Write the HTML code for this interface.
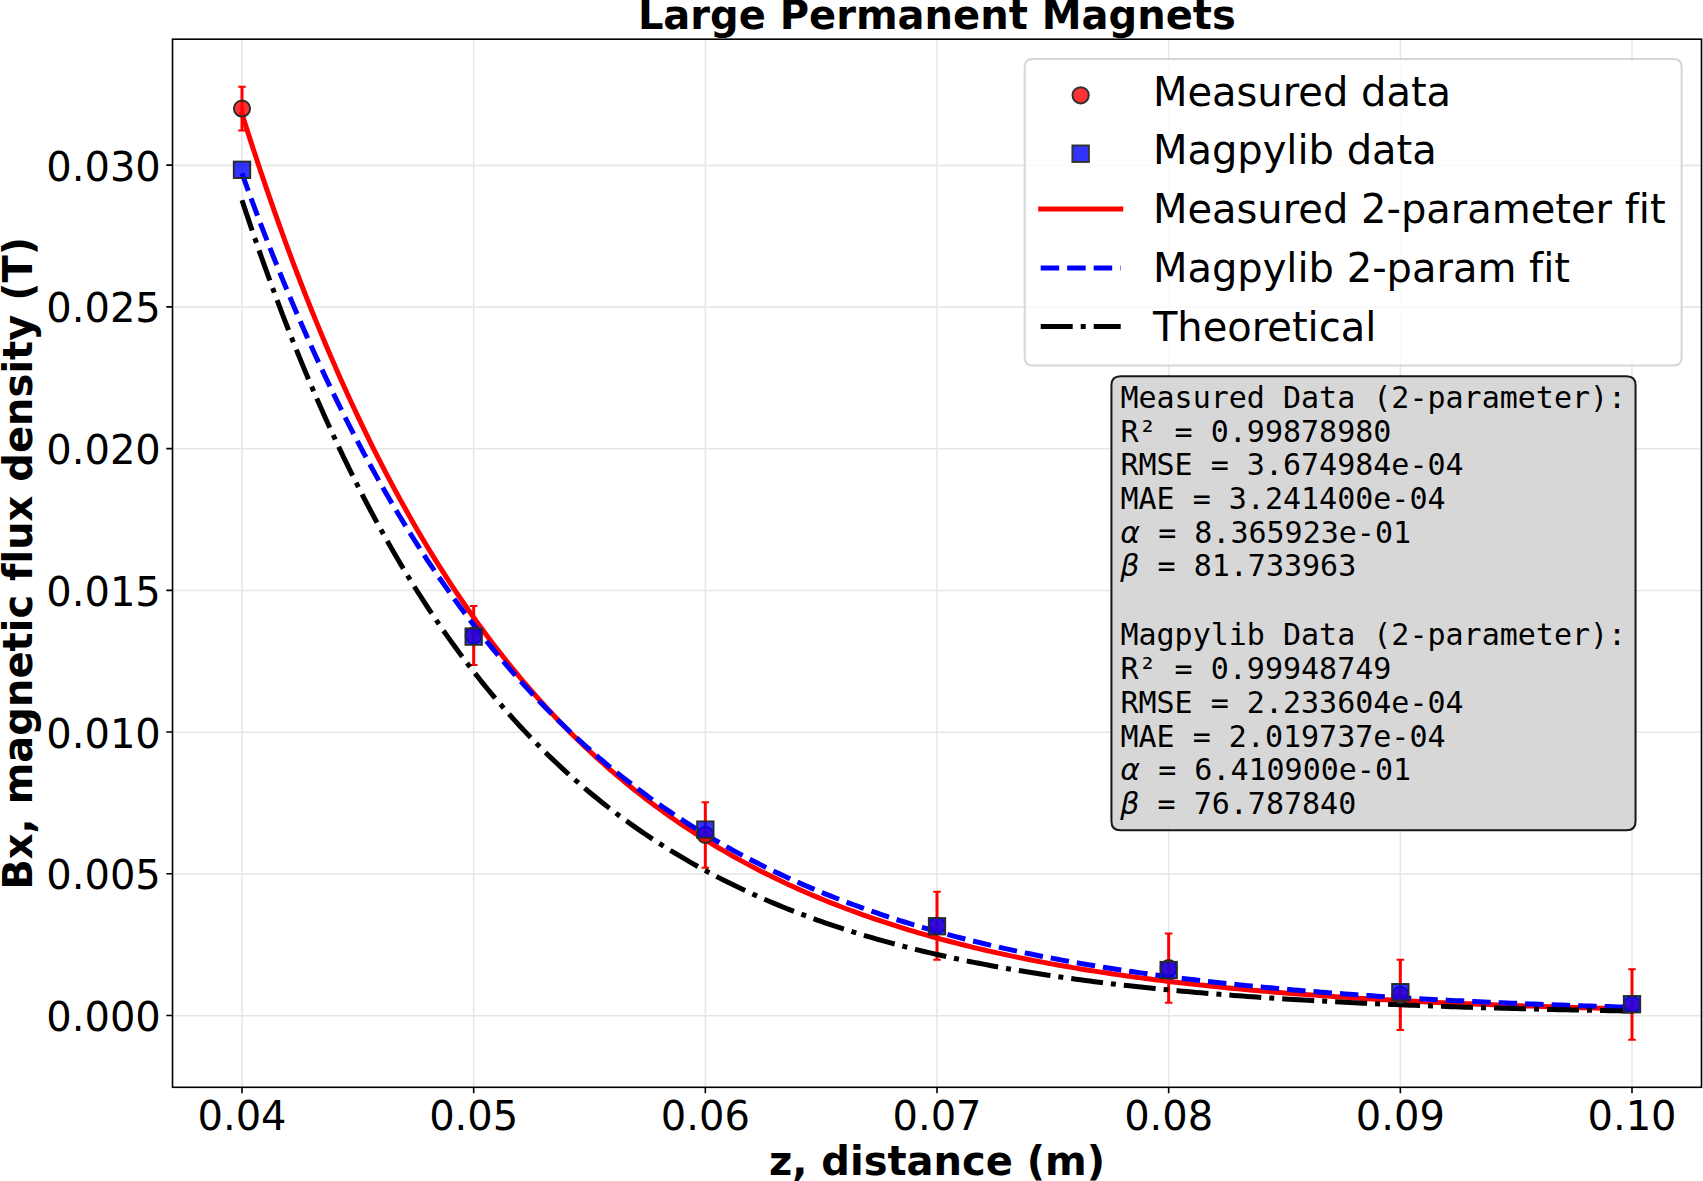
<!DOCTYPE html>
<html><head><meta charset="utf-8"><title>Large Permanent Magnets</title>
<style>html,body{margin:0;padding:0;background:#fff}svg{display:block}text{font-variant-ligatures:none;font-kerning:normal}</style></head>
<body>
<svg width="1703" height="1181" viewBox="0 0 1703 1181">
<rect width="1703" height="1181" fill="#fff"/>
<defs><clipPath id="ax"><rect x="172.52" y="39.2" width="1528.98" height="1048.1"/></clipPath></defs>
<path d="M242.00 39.2V1087.3M473.67 39.2V1087.3M705.33 39.2V1087.3M937.00 39.2V1087.3M1168.67 39.2V1087.3M1400.34 39.2V1087.3M1632.00 39.2V1087.3M172.52 1015.70H1701.5M172.52 873.98H1701.5M172.52 732.25H1701.5M172.52 590.53H1701.5M172.52 448.80H1701.5M172.52 307.08H1701.5M172.52 165.35H1701.5" stroke="#b0b0b0" stroke-opacity="0.3" stroke-width="1.6" fill="none"/>
<g clip-path="url(#ax)">
<path d="M242.00 86.65V130.45M473.67 605.95V664.95M705.33 802.27V867.67M937.00 891.68V959.68M1168.67 933.47V1002.87M1400.34 959.77V1029.97M1632.00 969.26V1039.86" stroke="#f00" stroke-width="3" fill="none"/>
<path d="M238.20 86.65h7.6M238.20 130.45h7.6M469.87 605.95h7.6M469.87 664.95h7.6M701.53 802.27h7.6M701.53 867.67h7.6M933.20 891.68h7.6M933.20 959.68h7.6M1164.87 933.47h7.6M1164.87 1002.87h7.6M1396.54 959.77h7.6M1396.54 1029.97h7.6M1628.20 969.26h7.6M1628.20 1039.86h7.6" stroke="#f00" stroke-width="2" fill="none"/>
<path d="M242.00 113.87L246.63 128.49L251.27 142.87L255.90 157.03L260.53 170.95L265.17 184.65L269.80 198.12L274.43 211.38L279.07 224.42L283.70 237.25L288.33 249.87L292.97 262.29L297.60 274.50L302.23 286.52L306.87 298.34L311.50 309.97L316.13 321.42L320.77 332.67L325.40 343.75L330.03 354.64L334.67 365.36L339.30 375.91L343.93 386.28L348.57 396.48L353.20 406.52L357.83 416.40L362.47 426.12L367.10 435.68L371.73 445.08L376.37 454.33L381.00 463.44L385.63 472.39L390.27 481.20L394.90 489.87L399.53 498.39L404.17 506.78L408.80 515.03L413.43 523.15L418.07 531.14L422.70 538.99L427.33 546.72L431.97 554.33L436.60 561.81L441.23 569.17L445.87 576.41L450.50 583.53L455.13 590.54L459.77 597.43L464.40 604.21L469.03 610.88L473.67 617.45L478.30 623.90L482.93 630.26L487.57 636.51L492.20 642.65L496.83 648.70L501.47 654.65L506.10 660.51L510.73 666.27L515.37 671.93L520.00 677.51L524.63 682.99L529.27 688.38L533.90 693.69L538.53 698.91L543.17 704.05L547.80 709.10L552.43 714.07L557.07 718.96L561.70 723.77L566.33 728.51L570.97 733.16L575.60 737.74L580.23 742.25L584.87 746.69L589.50 751.05L594.13 755.34L598.77 759.56L603.40 763.71L608.03 767.80L612.67 771.82L617.30 775.77L621.93 779.66L626.57 783.49L631.20 787.25L635.83 790.96L640.47 794.60L645.10 798.19L649.73 801.71L654.37 805.18L659.00 808.60L663.63 811.95L668.27 815.26L672.90 818.51L677.53 821.71L682.17 824.85L686.80 827.95L691.43 830.99L696.07 833.98L700.70 836.93L705.33 839.83L709.97 842.68L714.60 845.49L719.23 848.25L723.87 850.96L728.50 853.63L733.13 856.26L737.77 858.84L742.40 861.39L747.03 863.89L751.67 866.35L756.30 868.77L760.93 871.16L765.57 873.50L770.20 875.80L774.83 878.07L779.47 880.30L784.10 882.50L788.73 884.66L793.37 886.78L798.00 888.87L802.63 890.93L807.27 892.95L811.90 894.94L816.53 896.90L821.17 898.83L825.80 900.72L830.43 902.59L835.07 904.42L839.70 906.23L844.33 908.00L848.97 909.75L853.60 911.46L858.23 913.15L862.87 914.82L867.50 916.45L872.13 918.06L876.77 919.65L881.40 921.20L886.03 922.73L890.67 924.24L895.30 925.73L899.93 927.18L904.57 928.62L909.20 930.03L913.83 931.42L918.47 932.79L923.10 934.13L927.73 935.45L932.37 936.75L937.00 938.03L941.63 939.29L946.27 940.53L950.90 941.75L955.53 942.95L960.17 944.13L964.80 945.29L969.43 946.43L974.07 947.56L978.70 948.66L983.33 949.75L987.97 950.82L992.60 951.87L997.23 952.90L1001.87 953.92L1006.50 954.92L1011.13 955.91L1015.77 956.88L1020.40 957.83L1025.03 958.77L1029.67 959.69L1034.30 960.60L1038.93 961.49L1043.57 962.37L1048.20 963.24L1052.83 964.09L1057.47 964.93L1062.10 965.75L1066.73 966.56L1071.37 967.36L1076.00 968.14L1080.63 968.91L1085.27 969.67L1089.90 970.42L1094.53 971.15L1099.17 971.87L1103.80 972.58L1108.43 973.28L1113.07 973.97L1117.70 974.65L1122.33 975.31L1126.97 975.97L1131.60 976.61L1136.23 977.24L1140.87 977.87L1145.50 978.48L1150.13 979.09L1154.77 979.68L1159.40 980.26L1164.03 980.84L1168.67 981.40L1173.30 981.96L1177.93 982.51L1182.57 983.04L1187.20 983.57L1191.83 984.09L1196.47 984.61L1201.10 985.11L1205.73 985.61L1210.37 986.09L1215.00 986.57L1219.63 987.05L1224.27 987.51L1228.90 987.97L1233.53 988.42L1238.17 988.86L1242.80 989.30L1247.43 989.72L1252.07 990.15L1256.70 990.56L1261.33 990.97L1265.97 991.37L1270.60 991.76L1275.23 992.15L1279.87 992.53L1284.50 992.91L1289.13 993.28L1293.77 993.64L1298.40 994.00L1303.03 994.35L1307.67 994.70L1312.30 995.04L1316.93 995.37L1321.57 995.70L1326.20 996.03L1330.83 996.35L1335.47 996.66L1340.10 996.97L1344.73 997.27L1349.37 997.57L1354.00 997.86L1358.63 998.15L1363.27 998.44L1367.90 998.72L1372.53 998.99L1377.17 999.26L1381.80 999.53L1386.43 999.79L1391.07 1000.05L1395.70 1000.30L1400.34 1000.55L1404.97 1000.80L1409.60 1001.04L1414.24 1001.28L1418.87 1001.51L1423.50 1001.74L1428.14 1001.97L1432.77 1002.19L1437.40 1002.41L1442.04 1002.63L1446.67 1002.84L1451.30 1003.05L1455.94 1003.25L1460.57 1003.45L1465.20 1003.65L1469.84 1003.85L1474.47 1004.04L1479.10 1004.23L1483.74 1004.41L1488.37 1004.60L1493.00 1004.78L1497.64 1004.95L1502.27 1005.13L1506.90 1005.30L1511.54 1005.47L1516.17 1005.64L1520.80 1005.80L1525.44 1005.96L1530.07 1006.12L1534.70 1006.27L1539.34 1006.42L1543.97 1006.58L1548.60 1006.72L1553.24 1006.87L1557.87 1007.01L1562.50 1007.15L1567.14 1007.29L1571.77 1007.43L1576.40 1007.56L1581.04 1007.69L1585.67 1007.82L1590.30 1007.95L1594.94 1008.08L1599.57 1008.20L1604.20 1008.32L1608.84 1008.44L1613.47 1008.56L1618.10 1008.68L1622.74 1008.79L1627.37 1008.90L1632.00 1009.01" stroke="#f00" stroke-width="5" fill="none" stroke-linecap="square" stroke-linejoin="round"/>
<path d="M242.00 173.42L246.63 186.26L251.27 198.90L255.90 211.35L260.53 223.61L265.17 235.68L269.80 247.57L274.43 259.27L279.07 270.80L283.70 282.16L288.33 293.33L292.97 304.34L297.60 315.18L302.23 325.86L306.87 336.37L311.50 346.73L316.13 356.92L320.77 366.96L325.40 376.85L330.03 386.59L334.67 396.17L339.30 405.62L343.93 414.91L348.57 424.07L353.20 433.09L357.83 441.96L362.47 450.71L367.10 459.32L371.73 467.80L376.37 476.15L381.00 484.37L385.63 492.47L390.27 500.44L394.90 508.30L399.53 516.03L404.17 523.64L408.80 531.14L413.43 538.53L418.07 545.80L422.70 552.96L427.33 560.01L431.97 566.96L436.60 573.80L441.23 580.53L445.87 587.16L450.50 593.70L455.13 600.13L459.77 606.46L464.40 612.70L469.03 618.84L473.67 624.89L478.30 630.84L482.93 636.71L487.57 642.48L492.20 648.17L496.83 653.77L501.47 659.29L506.10 664.72L510.73 670.07L515.37 675.34L520.00 680.52L524.63 685.63L529.27 690.66L533.90 695.62L538.53 700.50L543.17 705.30L547.80 710.03L552.43 714.69L557.07 719.28L561.70 723.79L566.33 728.24L570.97 732.62L575.60 736.94L580.23 741.19L584.87 745.37L589.50 749.49L594.13 753.55L598.77 757.54L603.40 761.48L608.03 765.35L612.67 769.17L617.30 772.92L621.93 776.62L626.57 780.27L631.20 783.85L635.83 787.39L640.47 790.87L645.10 794.29L649.73 797.67L654.37 800.99L659.00 804.26L663.63 807.49L668.27 810.66L672.90 813.78L677.53 816.86L682.17 819.89L686.80 822.88L691.43 825.81L696.07 828.71L700.70 831.56L705.33 834.36L709.97 837.13L714.60 839.85L719.23 842.53L723.87 845.17L728.50 847.77L733.13 850.33L737.77 852.85L742.40 855.33L747.03 857.77L751.67 860.18L756.30 862.55L760.93 864.88L765.57 867.18L770.20 869.45L774.83 871.68L779.47 873.87L784.10 876.03L788.73 878.16L793.37 880.26L798.00 882.32L802.63 884.35L807.27 886.35L811.90 888.33L816.53 890.27L821.17 892.18L825.80 894.06L830.43 895.92L835.07 897.74L839.70 899.54L844.33 901.31L848.97 903.05L853.60 904.77L858.23 906.46L862.87 908.12L867.50 909.76L872.13 911.38L876.77 912.97L881.40 914.53L886.03 916.08L890.67 917.59L895.30 919.09L899.93 920.56L904.57 922.01L909.20 923.44L913.83 924.85L918.47 926.23L923.10 927.59L927.73 928.94L932.37 930.26L937.00 931.56L941.63 932.84L946.27 934.11L950.90 935.35L955.53 936.57L960.17 937.78L964.80 938.97L969.43 940.14L974.07 941.29L978.70 942.42L983.33 943.54L987.97 944.64L992.60 945.72L997.23 946.79L1001.87 947.84L1006.50 948.87L1011.13 949.89L1015.77 950.89L1020.40 951.88L1025.03 952.85L1029.67 953.81L1034.30 954.76L1038.93 955.68L1043.57 956.60L1048.20 957.50L1052.83 958.39L1057.47 959.26L1062.10 960.12L1066.73 960.97L1071.37 961.80L1076.00 962.62L1080.63 963.43L1085.27 964.23L1089.90 965.01L1094.53 965.79L1099.17 966.55L1103.80 967.30L1108.43 968.03L1113.07 968.76L1117.70 969.47L1122.33 970.18L1126.97 970.87L1131.60 971.56L1136.23 972.23L1140.87 972.89L1145.50 973.54L1150.13 974.19L1154.77 974.82L1159.40 975.44L1164.03 976.06L1168.67 976.66L1173.30 977.25L1177.93 977.84L1182.57 978.42L1187.20 978.99L1191.83 979.55L1196.47 980.10L1201.10 980.64L1205.73 981.17L1210.37 981.70L1215.00 982.22L1219.63 982.73L1224.27 983.23L1228.90 983.73L1233.53 984.21L1238.17 984.69L1242.80 985.17L1247.43 985.63L1252.07 986.09L1256.70 986.54L1261.33 986.98L1265.97 987.42L1270.60 987.85L1275.23 988.28L1279.87 988.70L1284.50 989.11L1289.13 989.51L1293.77 989.91L1298.40 990.30L1303.03 990.69L1307.67 991.07L1312.30 991.45L1316.93 991.82L1321.57 992.18L1326.20 992.54L1330.83 992.89L1335.47 993.24L1340.10 993.58L1344.73 993.92L1349.37 994.25L1354.00 994.58L1358.63 994.90L1363.27 995.22L1367.90 995.53L1372.53 995.84L1377.17 996.14L1381.80 996.44L1386.43 996.73L1391.07 997.02L1395.70 997.31L1400.34 997.59L1404.97 997.86L1409.60 998.13L1414.24 998.40L1418.87 998.66L1423.50 998.92L1428.14 999.18L1432.77 999.43L1437.40 999.68L1442.04 999.92L1446.67 1000.16L1451.30 1000.40L1455.94 1000.63L1460.57 1000.86L1465.20 1001.09L1469.84 1001.31L1474.47 1001.53L1479.10 1001.75L1483.74 1001.96L1488.37 1002.17L1493.00 1002.38L1497.64 1002.58L1502.27 1002.78L1506.90 1002.98L1511.54 1003.17L1516.17 1003.36L1520.80 1003.55L1525.44 1003.73L1530.07 1003.92L1534.70 1004.10L1539.34 1004.27L1543.97 1004.45L1548.60 1004.62L1553.24 1004.79L1557.87 1004.95L1562.50 1005.12L1567.14 1005.28L1571.77 1005.44L1576.40 1005.59L1581.04 1005.75L1585.67 1005.90L1590.30 1006.05L1594.94 1006.20L1599.57 1006.34L1604.20 1006.48L1608.84 1006.62L1613.47 1006.76L1618.10 1006.90L1622.74 1007.03L1627.37 1007.16L1632.00 1007.29" stroke="#00f" stroke-width="5" fill="none" stroke-dasharray="18.5 8" stroke-linejoin="round"/>
<path d="M242.00 200.20L246.63 214.15L251.27 227.87L255.90 241.35L260.53 254.60L265.17 267.62L269.80 280.42L274.43 293.01L279.07 305.37L283.70 317.53L288.33 329.48L292.97 341.22L297.60 352.76L302.23 364.10L306.87 375.25L311.50 386.21L316.13 396.98L320.77 407.57L325.40 417.98L330.03 428.21L334.67 438.26L339.30 448.14L343.93 457.85L348.57 467.40L353.20 476.78L357.83 486.00L362.47 495.07L367.10 503.98L371.73 512.73L376.37 521.34L381.00 529.80L385.63 538.11L390.27 546.29L394.90 554.32L399.53 562.21L404.17 569.97L408.80 577.60L413.43 585.10L418.07 592.47L422.70 599.71L427.33 606.83L431.97 613.82L436.60 620.70L441.23 627.46L445.87 634.10L450.50 640.63L455.13 647.05L459.77 653.36L464.40 659.56L469.03 665.65L473.67 671.64L478.30 677.53L482.93 683.32L487.57 689.01L492.20 694.60L496.83 700.09L501.47 705.49L506.10 710.80L510.73 716.02L515.37 721.15L520.00 726.19L524.63 731.14L529.27 736.01L533.90 740.80L538.53 745.50L543.17 750.12L547.80 754.67L552.43 759.13L557.07 763.52L561.70 767.84L566.33 772.08L570.97 776.25L575.60 780.35L580.23 784.37L584.87 788.33L589.50 792.22L594.13 796.05L598.77 799.81L603.40 803.50L608.03 807.13L612.67 810.70L617.30 814.21L621.93 817.66L626.57 821.05L631.20 824.38L635.83 827.65L640.47 830.87L645.10 834.03L649.73 837.14L654.37 840.20L659.00 843.20L663.63 846.15L668.27 849.05L672.90 851.90L677.53 854.71L682.17 857.46L686.80 860.17L691.43 862.83L696.07 865.45L700.70 868.02L705.33 870.54L709.97 873.03L714.60 875.47L719.23 877.87L723.87 880.23L728.50 882.55L733.13 884.82L737.77 887.06L742.40 889.27L747.03 891.43L751.67 893.56L756.30 895.65L760.93 897.70L765.57 899.72L770.20 901.70L774.83 903.65L779.47 905.57L784.10 907.46L788.73 909.31L793.37 911.13L798.00 912.92L802.63 914.68L807.27 916.41L811.90 918.11L816.53 919.78L821.17 921.42L825.80 923.03L830.43 924.62L835.07 926.17L839.70 927.71L844.33 929.21L848.97 930.69L853.60 932.15L858.23 933.58L862.87 934.98L867.50 936.36L872.13 937.72L876.77 939.05L881.40 940.37L886.03 941.66L890.67 942.92L895.30 944.17L899.93 945.39L904.57 946.60L909.20 947.78L913.83 948.94L918.47 950.08L923.10 951.21L927.73 952.31L932.37 953.39L937.00 954.46L941.63 955.51L946.27 956.54L950.90 957.55L955.53 958.55L960.17 959.52L964.80 960.48L969.43 961.43L974.07 962.36L978.70 963.27L983.33 964.17L987.97 965.05L992.60 965.92L997.23 966.77L1001.87 967.61L1006.50 968.43L1011.13 969.24L1015.77 970.03L1020.40 970.81L1025.03 971.58L1029.67 972.34L1034.30 973.08L1038.93 973.81L1043.57 974.53L1048.20 975.23L1052.83 975.92L1057.47 976.60L1062.10 977.27L1066.73 977.93L1071.37 978.58L1076.00 979.21L1080.63 979.84L1085.27 980.45L1089.90 981.05L1094.53 981.65L1099.17 982.23L1103.80 982.80L1108.43 983.36L1113.07 983.92L1117.70 984.46L1122.33 985.00L1126.97 985.52L1131.60 986.04L1136.23 986.55L1140.87 987.04L1145.50 987.53L1150.13 988.02L1154.77 988.49L1159.40 988.96L1164.03 989.41L1168.67 989.86L1173.30 990.31L1177.93 990.74L1182.57 991.17L1187.20 991.59L1191.83 992.00L1196.47 992.40L1201.10 992.80L1205.73 993.20L1210.37 993.58L1215.00 993.96L1219.63 994.33L1224.27 994.70L1228.90 995.06L1233.53 995.41L1238.17 995.76L1242.80 996.10L1247.43 996.43L1252.07 996.76L1256.70 997.09L1261.33 997.41L1265.97 997.72L1270.60 998.03L1275.23 998.33L1279.87 998.63L1284.50 998.92L1289.13 999.21L1293.77 999.49L1298.40 999.76L1303.03 1000.04L1307.67 1000.31L1312.30 1000.57L1316.93 1000.83L1321.57 1001.08L1326.20 1001.33L1330.83 1001.58L1335.47 1001.82L1340.10 1002.06L1344.73 1002.29L1349.37 1002.52L1354.00 1002.75L1358.63 1002.97L1363.27 1003.19L1367.90 1003.40L1372.53 1003.61L1377.17 1003.82L1381.80 1004.02L1386.43 1004.22L1391.07 1004.42L1395.70 1004.61L1400.34 1004.80L1404.97 1004.99L1409.60 1005.17L1414.24 1005.35L1418.87 1005.53L1423.50 1005.70L1428.14 1005.87L1432.77 1006.04L1437.40 1006.21L1442.04 1006.37L1446.67 1006.53L1451.30 1006.68L1455.94 1006.84L1460.57 1006.99L1465.20 1007.14L1469.84 1007.29L1474.47 1007.43L1479.10 1007.57L1483.74 1007.71L1488.37 1007.85L1493.00 1007.98L1497.64 1008.11L1502.27 1008.24L1506.90 1008.37L1511.54 1008.50L1516.17 1008.62L1520.80 1008.74L1525.44 1008.86L1530.07 1008.98L1534.70 1009.09L1539.34 1009.21L1543.97 1009.32L1548.60 1009.43L1553.24 1009.53L1557.87 1009.64L1562.50 1009.74L1567.14 1009.84L1571.77 1009.94L1576.40 1010.04L1581.04 1010.14L1585.67 1010.23L1590.30 1010.33L1594.94 1010.42L1599.57 1010.51L1604.20 1010.60L1608.84 1010.69L1613.47 1010.77L1618.10 1010.86L1622.74 1010.94L1627.37 1011.02L1632.00 1011.10" stroke="#000" stroke-width="5" fill="none" stroke-dasharray="32 8 5 8" stroke-linejoin="round"/>
<circle cx="242.00" cy="108.55" r="8.1" fill="#f00" fill-opacity="0.8" stroke="#2a2a2a" stroke-width="1.9"/>
<circle cx="473.67" cy="635.45" r="8.1" fill="#f00" fill-opacity="0.8" stroke="#2a2a2a" stroke-width="1.9"/>
<circle cx="705.33" cy="834.97" r="8.1" fill="#f00" fill-opacity="0.8" stroke="#2a2a2a" stroke-width="1.9"/>
<circle cx="937.00" cy="925.68" r="8.1" fill="#f00" fill-opacity="0.8" stroke="#2a2a2a" stroke-width="1.9"/>
<circle cx="1168.67" cy="968.17" r="8.1" fill="#f00" fill-opacity="0.8" stroke="#2a2a2a" stroke-width="1.9"/>
<circle cx="1400.34" cy="994.87" r="8.1" fill="#f00" fill-opacity="0.8" stroke="#2a2a2a" stroke-width="1.9"/>
<circle cx="1632.00" cy="1004.56" r="8.1" fill="#f00" fill-opacity="0.8" stroke="#2a2a2a" stroke-width="1.9"/>
<rect x="233.80" y="161.60" width="16.4" height="16.4" fill="#00f" fill-opacity="0.8" stroke="#2a2a2a" stroke-width="1.9"/>
<rect x="465.47" y="628.41" width="16.4" height="16.4" fill="#00f" fill-opacity="0.8" stroke="#2a2a2a" stroke-width="1.9"/>
<rect x="697.13" y="821.42" width="16.4" height="16.4" fill="#00f" fill-opacity="0.8" stroke="#2a2a2a" stroke-width="1.9"/>
<rect x="928.80" y="918.07" width="16.4" height="16.4" fill="#00f" fill-opacity="0.8" stroke="#2a2a2a" stroke-width="1.9"/>
<rect x="1160.47" y="961.84" width="16.4" height="16.4" fill="#00f" fill-opacity="0.8" stroke="#2a2a2a" stroke-width="1.9"/>
<rect x="1392.13" y="984.00" width="16.4" height="16.4" fill="#00f" fill-opacity="0.8" stroke="#2a2a2a" stroke-width="1.9"/>
<rect x="1623.80" y="996.02" width="16.4" height="16.4" fill="#00f" fill-opacity="0.8" stroke="#2a2a2a" stroke-width="1.9"/>
</g>
<rect x="172.52" y="39.2" width="1528.98" height="1048.1" fill="none" stroke="#000" stroke-width="1.6"/>
<path d="M242.00 1087.3v6M473.67 1087.3v6M705.33 1087.3v6M937.00 1087.3v6M1168.67 1087.3v6M1400.34 1087.3v6M1632.00 1087.3v6M172.52 1015.50h-6.2M172.52 873.77h-6.2M172.52 732.05h-6.2M172.52 590.33h-6.2M172.52 448.60h-6.2M172.52 306.88h-6.2M172.52 165.15h-6.2" stroke="#000" stroke-width="1.6" fill="none"/>
<g font-family="DejaVu Sans, Liberation Sans, sans-serif" font-size="40" fill="#000">
<text x="242.00" y="1129.7" text-anchor="middle">0.04</text>
<text x="473.67" y="1129.7" text-anchor="middle">0.05</text>
<text x="705.33" y="1129.7" text-anchor="middle">0.06</text>
<text x="937.00" y="1129.7" text-anchor="middle">0.07</text>
<text x="1168.67" y="1129.7" text-anchor="middle">0.08</text>
<text x="1400.34" y="1129.7" text-anchor="middle">0.09</text>
<text x="1632.00" y="1129.7" text-anchor="middle">0.10</text>
<text x="160.8" y="1031.10" text-anchor="end">0.000</text>
<text x="160.8" y="889.38" text-anchor="end">0.005</text>
<text x="160.8" y="747.65" text-anchor="end">0.010</text>
<text x="160.8" y="605.93" text-anchor="end">0.015</text>
<text x="160.8" y="464.20" text-anchor="end">0.020</text>
<text x="160.8" y="322.48" text-anchor="end">0.025</text>
<text x="160.8" y="180.75" text-anchor="end">0.030</text>
</g>
<g font-family="DejaVu Sans, Liberation Sans, sans-serif" font-size="40" font-weight="bold" fill="#000">
<text x="936.8" y="28.8" text-anchor="middle">Large Permanent Magnets</text>
<text x="937.0" y="1174.6" text-anchor="middle">z, distance (m)</text>
<text transform="translate(31.8 563.35) rotate(-90)" text-anchor="middle">Bx, magnetic flux density (T)</text>
</g>
<path d="M1032.7 59.0L1673.6 59.0Q1681.6 59.0 1681.6 67.0L1681.6 357.4Q1681.6 365.4 1673.6 365.4L1032.7 365.4Q1024.7 365.4 1024.7 357.4L1024.7 67.0Q1024.7 59.0 1032.7 59.0Z" fill="#fff" fill-opacity="0.8" stroke="#ccc" stroke-opacity="0.8" stroke-width="2"/>
<circle cx="1080.65" cy="95.3" r="8.1" fill="#f00" fill-opacity="0.8" stroke="#333" stroke-width="2"/>
<rect x="1072.45" y="145.5" width="16.4" height="16.4" fill="#00f" fill-opacity="0.8" stroke="#333" stroke-width="2"/>
<path d="M1040.7 209H1120.7" stroke="#f00" stroke-width="5" stroke-linecap="square"/>
<path d="M1040.7 267.9H1120.7" stroke="#00f" stroke-width="5" stroke-dasharray="18.5 8"/>
<path d="M1040.7 326.6H1120.7" stroke="#000" stroke-width="5" stroke-dasharray="32 8 5 8"/>
<g font-family="DejaVu Sans, Liberation Sans, sans-serif" font-size="40" fill="#000">
<text x="1152.9" y="105.60">Measured data</text>
<text x="1152.9" y="164.40">Magpylib data</text>
<text x="1152.9" y="223.20">Measured 2-parameter fit</text>
<text x="1152.9" y="282.00">Magpylib 2-param fit</text>
<text x="1152.9" y="340.80">Theoretical</text>
</g>
<path d="M1120.43 376.17L1626.56 376.17Q1635.56 376.17 1635.56 385.17L1635.56 821.27Q1635.56 830.27 1626.56 830.27L1120.43 830.27Q1111.43 830.27 1111.43 821.27L1111.43 385.17Q1111.43 376.17 1120.43 376.17Z" fill="#d3d3d3" fill-opacity="0.9" stroke="#000" stroke-opacity="0.9" stroke-width="2"/>
<g font-family="DejaVu Sans Mono, Liberation Mono, monospace" font-size="30" fill="#000" xml:space="preserve">
<text x="1120.45" y="408.0">Measured Data (2-parameter):</text>
<text x="1120.45" y="441.7">R² = 0.99878980</text>
<text x="1120.45" y="475.3">RMSE = 3.674984e-04</text>
<text x="1120.45" y="509.4">MAE = 3.241400e-04</text>
<text x="1120.3" y="543.0"><tspan font-family="DejaVu Sans, Liberation Sans, sans-serif" font-style="italic">α</tspan> = 8.365923e-01</text>
<text x="1120.3" y="576.3"><tspan font-family="DejaVu Sans, Liberation Sans, sans-serif" font-style="italic">β</tspan> = 81.733963</text>
<text x="1120.45" y="645.2">Magpylib Data (2-parameter):</text>
<text x="1120.45" y="679.0">R² = 0.99948749</text>
<text x="1120.45" y="712.8">RMSE = 2.233604e-04</text>
<text x="1120.45" y="746.9">MAE = 2.019737e-04</text>
<text x="1120.3" y="779.6"><tspan font-family="DejaVu Sans, Liberation Sans, sans-serif" font-style="italic">α</tspan> = 6.410900e-01</text>
<text x="1120.3" y="814.1"><tspan font-family="DejaVu Sans, Liberation Sans, sans-serif" font-style="italic">β</tspan> = 76.787840</text>
</g>
</svg>
</body></html>
